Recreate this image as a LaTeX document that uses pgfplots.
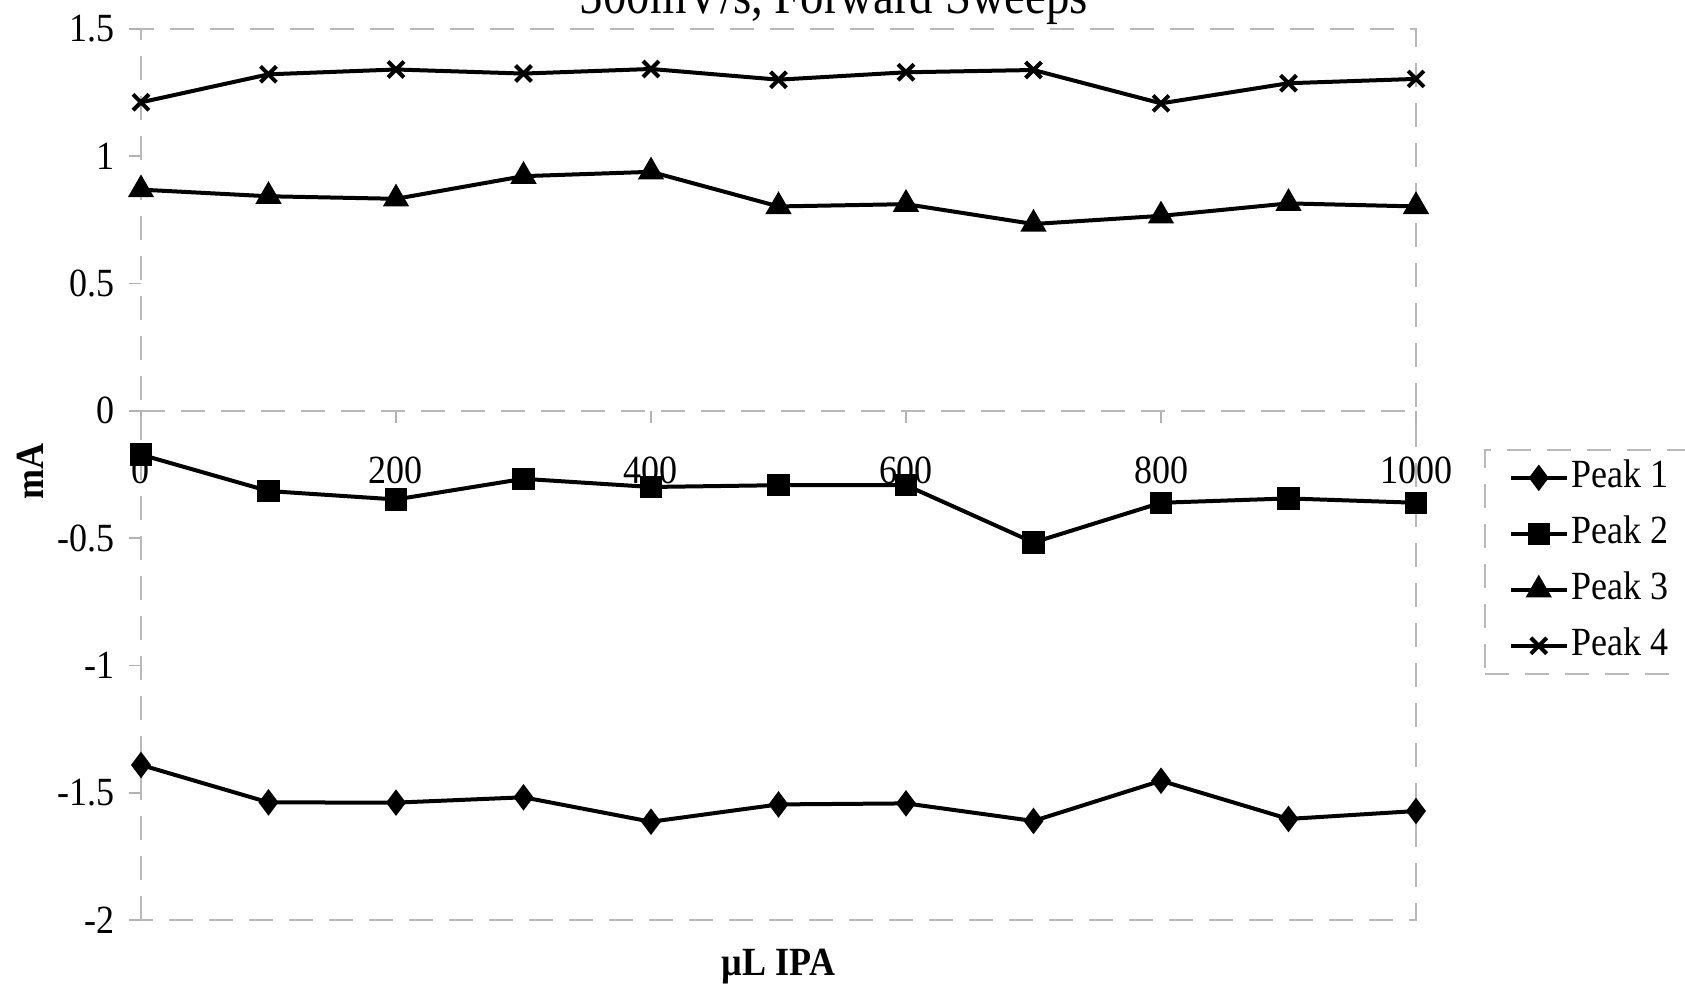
\documentclass[border=0pt]{standalone}
\usepackage{fontspec}
\setmainfont{Liberation Serif}[FakeStretch=0.9]
\usepackage{pgfplots}
\pgfplotsset{compat=1.18}
\begin{document}
\fontsize{10}{12}\selectfont
\begin{tikzpicture}
\begin{axis}[
  at={(0,0)}, anchor=south west, scale only axis,
  width=318.75pt, height=222.75pt,
  xmin=0, xmax=1000, ymin=-2, ymax=1.5,
  axis x line*=middle, axis y line*=left,
  hide obscured x ticks=false, hide obscured y ticks=false,
  xtick={0,200,400,600,800,1000},
  xticklabels={0,200,400,600,800,1000},
  ytick={-2,-1.5,-1,-0.5,0,0.5,1,1.5},
  yticklabels={-2,-1.5,-1,-0.5,0,0.5,1,1.5},
  /pgf/number format/assume math mode=true,
  xticklabel style={yshift=-5pt},
  tick label style={font=\fontsize{10}{12}\selectfont},
  tick align=outside, major tick length=3pt,
  tick style={gray!60, thin, solid},
  axis line style={gray!55, dash pattern=on 6pt off 4pt, line width=0.4pt},
  ylabel={\bfseries mA},
  ylabel style={at={(axis description cs:-0.087,0.503)}, anchor=center, font=\fontsize{10}{12}\selectfont},
  xlabel={\bfseries µL IPA},
  xlabel style={at={(axis description cs:0.5,-0.0527)}, anchor=center, font=\fontsize{10}{12}\selectfont},
  legend style={at={(1.0533,0.5286)}, anchor=north west, draw=gray!55,
    dash pattern=on 6pt off 4pt, line width=0.4pt, inner xsep=6pt, inner ysep=0pt,
    row sep=0pt, font=\fontsize{10}{12}\selectfont,
    nodes={inner xsep=0.75pt, inner ysep=2.5pt, text height=7pt, text depth=2pt}},
  legend cell align=left,
  legend image code/.code={\draw[solid,mark repeat=2,mark phase=2] plot coordinates {(0pt,0pt) (7pt,0pt) (14pt,0pt)};},
  clip=false,
]
\draw[gray!55, dash pattern=on 6pt off 4pt, line width=0.4pt] (rel axis cs:0,0) rectangle (rel axis cs:1,1);
\node[anchor=base, font=\fontsize{13}{15}\selectfont] at ([yshift=4pt]rel axis cs:0.5435,1) {500mV/s, Forward Sweeps};
\addplot[black, solid, line width=1pt, mark=diamond*, mark size=2.5pt, mark options={solid}] coordinates {
(0,-1.391) (100,-1.538) (200,-1.539) (300,-1.518) (400,-1.614) (500,-1.546) (600,-1.542) (700,-1.611) (800,-1.453) (900,-1.603) (1000,-1.572)};
\addplot[black, solid, line width=1pt, mark=square*, mark size=2.3pt, mark options={solid}] coordinates {
(0,-0.172) (100,-0.315) (200,-0.348) (300,-0.267) (400,-0.299) (500,-0.292) (600,-0.292) (700,-0.517) (800,-0.361) (900,-0.344) (1000,-0.361)};
\addplot[black, solid, line width=1pt, mark=triangle*, mark size=2.8pt, mark options={solid}] coordinates {
(0,0.869) (100,0.843) (200,0.833) (300,0.922) (400,0.939) (500,0.803) (600,0.812) (700,0.734) (800,0.766) (900,0.815) (1000,0.803)};
\addplot[black, solid, line width=1pt, mark=x, mark size=2.8pt, mark options={solid, line width=1pt}] coordinates {
(0,1.212) (100,1.322) (200,1.341) (300,1.325) (400,1.343) (500,1.301) (600,1.330) (700,1.339) (800,1.208) (900,1.287) (1000,1.304)};
\legend{Peak 1, Peak 2, Peak 3, Peak 4}
\end{axis}
\pgfresetboundingbox
\useasboundingbox (-35.25pt,-16.5pt) rectangle (386pt,230pt);
\end{tikzpicture}
\end{document}
